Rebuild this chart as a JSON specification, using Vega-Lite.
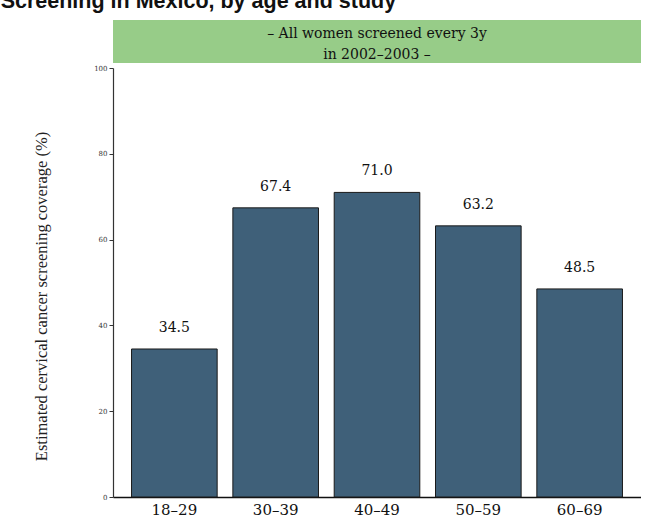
{
  "$schema": "https://vega.github.io/schema/vega-lite/v6.json",
  "background": "white",
  "padding": {"left": 0, "top": -10, "right": 0, "bottom": 0},
  "title": {
    "text": "Screening in Mexico, by age and study",
    "anchor": "start",
    "frame": "bounds",
    "font": "Liberation Sans",
    "fontSize": 21.5,
    "fontWeight": "bold",
    "color": "#111111",
    "offset": 8,
    "dx": -33
  },
  "bounds": "flush",
  "spacing": 5,
  "datasets": {
    "strip": [{"line1": "– All women screened every 3y", "line2": "in 2002–2003 –"}],
    "bars": [
      {"age": "18–29", "coverage": 34.5},
      {"age": "30–39", "coverage": 67.4},
      {"age": "40–49", "coverage": 71.0},
      {"age": "50–59", "coverage": 63.2},
      {"age": "60–69", "coverage": 48.5}
    ]
  },
  "config": {"view": {"stroke": null}},
  "vconcat": [
    {
      "width": 528,
      "height": 43,
      "data": {"name": "strip"},
      "layer": [
        {"mark": {"type": "rect", "color": "#97cc88"}, "encoding": {}},
        {
          "mark": {"type": "text", "font": "DejaVu Serif", "fontSize": 14, "color": "#111111", "baseline": "middle", "dy": -8},
          "encoding": {"text": {"field": "line1"}}
        },
        {
          "mark": {"type": "text", "font": "DejaVu Serif", "fontSize": 14, "color": "#111111", "baseline": "middle", "dy": 13},
          "encoding": {"text": {"field": "line2"}}
        }
      ]
    },
    {
      "width": 528,
      "height": 429,
      "data": {"name": "bars"},
      "encoding": {
        "x": {
          "field": "age",
          "type": "nominal",
          "sort": null,
          "scale": {"paddingInner": 0.155, "paddingOuter": 0.183},
          "axis": {
            "title": null,
            "labelAngle": 0,
            "ticks": false,
            "labelFont": "DejaVu Serif",
            "labelFontSize": 15,
            "labelColor": "#111111",
            "labelPadding": 5,
            "domainColor": "#111111",
            "domainWidth": 1.5
          }
        },
        "y": {
          "field": "coverage",
          "type": "quantitative",
          "scale": {"domain": [0, 100]},
          "axis": {
            "title": "Estimated cervical cancer screening coverage (%)",
            "titleFont": "Liberation Serif",
            "titleFontSize": 16.5,
            "titleFontWeight": "normal",
            "titleColor": "#222222",
            "titlePadding": 44,
            "titleY": 228,
            "values": [0, 20, 40, 60, 80, 100],
            "grid": false,
            "labelFont": "DejaVu Serif",
            "labelFontSize": 7,
            "labelColor": "#333333",
            "labelPadding": 2,
            "tickSize": 4,
            "tickColor": "#333333",
            "domainColor": "#333333",
            "domainWidth": 1.2
          }
        }
      },
      "layer": [
        {"mark": {"type": "bar", "fill": "#3f6079", "stroke": "#1a1a1a", "strokeWidth": 1}},
        {
          "mark": {"type": "text", "font": "DejaVu Serif", "fontSize": 14, "color": "#111111", "baseline": "middle", "dy": -21},
          "encoding": {"text": {"field": "coverage", "type": "quantitative", "format": ".1f"}}
        }
      ]
    }
  ]
}
